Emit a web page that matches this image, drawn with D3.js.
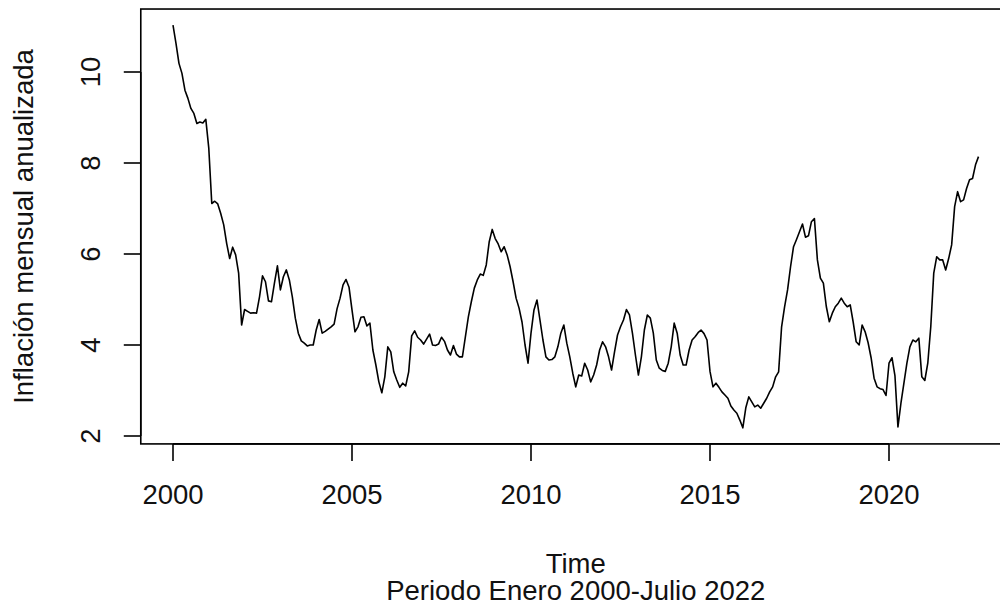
<!DOCTYPE html>
<html>
<head>
<meta charset="utf-8">
<script src="https://cdn.jsdelivr.net/npm/d3@7"></script>
<style>
  html, body { margin: 0; padding: 0; background: #fff; }
  svg text { font-family: "Liberation Sans", Arial, sans-serif; fill: #111; }
</style>
</head>
<body>
<svg id="chart" width="1000" height="614"></svg>
<script>
// Monthly annualized inflation, Jan 2000 - Jul 2022
const startYear = 2000;
const values = [
  11.03,10.63,10.19,9.97,9.60,9.42,9.20,9.09,8.87,8.90,8.88,8.96,
  8.32,7.11,7.16,7.10,6.89,6.64,6.23,5.90,6.15,5.98,5.58,4.44,
  4.78,4.74,4.70,4.71,4.70,5.06,5.52,5.39,4.97,4.95,5.36,5.74,
  5.21,5.50,5.65,5.43,5.06,4.59,4.26,4.09,4.04,3.98,4.00,4.00,
  4.33,4.56,4.26,4.30,4.35,4.40,4.46,4.80,5.03,5.32,5.44,5.27,
  4.77,4.29,4.40,4.61,4.62,4.42,4.48,3.89,3.56,3.19,2.95,3.30,
  3.96,3.85,3.41,3.23,3.07,3.16,3.10,3.41,4.20,4.31,4.17,4.11,
  4.02,4.13,4.24,4.00,3.99,4.02,4.17,4.08,3.89,3.78,3.99,3.80,
  3.74,3.74,4.18,4.62,4.95,5.25,5.43,5.56,5.53,5.76,6.27,6.54,
  6.34,6.22,6.05,6.16,5.98,5.72,5.39,5.03,4.81,4.50,4.00,3.60,
  4.26,4.77,4.99,4.55,4.11,3.74,3.67,3.68,3.74,3.96,4.26,4.44,
  4.04,3.74,3.38,3.08,3.34,3.32,3.60,3.45,3.19,3.34,3.56,3.89,
  4.07,3.96,3.74,3.45,3.85,4.22,4.40,4.55,4.78,4.66,4.26,3.78,
  3.34,3.74,4.33,4.66,4.59,4.26,3.67,3.49,3.44,3.42,3.60,3.96,
  4.48,4.26,3.78,3.56,3.56,3.89,4.11,4.18,4.27,4.33,4.25,4.11,
  3.42,3.08,3.16,3.07,2.97,2.90,2.83,2.66,2.57,2.50,2.35,2.18,
  2.62,2.86,2.75,2.64,2.68,2.61,2.72,2.83,2.97,3.08,3.30,3.41,
  4.40,4.84,5.21,5.72,6.16,6.32,6.49,6.66,6.37,6.40,6.71,6.78,
  5.87,5.47,5.36,4.84,4.51,4.70,4.84,4.92,5.03,4.92,4.84,4.88,
  4.50,4.07,4.00,4.44,4.29,4.05,3.72,3.27,3.08,3.04,3.02,2.89,
  3.60,3.72,3.32,2.20,2.72,3.16,3.60,3.96,4.11,4.07,4.15,3.30,
  3.22,3.60,4.40,5.58,5.94,5.87,5.87,5.65,5.90,6.20,7.04,7.37,
  7.15,7.19,7.44,7.63,7.66,7.96,8.14
];
const xTicks = [2000, 2005, 2010, 2015, 2020];
const yTicks = [2, 4, 6, 8, 10];
const xLabel = "Time";
const subLabel = "Periodo Enero 2000-Julio 2022";
const yLabel = "Inflación mensual anualizada";

(function () {
  const series = values.map((v, i) => ({ t: startYear + i / 12, v }));

  const svg = d3.select("#chart");
  const fs = 27.5;

  // R-style 4% axis extension
  const tExt = d3.extent(series, d => d.t);
  const vExt = d3.extent(series, d => d.v);
  const tPad = (tExt[1] - tExt[0]) * 0.04;
  const vPad = (vExt[1] - vExt[0]) * 0.04;

  const x = d3.scaleLinear().domain([2000, 2020]).range([173, 889]);
  const y = d3.scaleLinear().domain([2, 10]).range([436, 72]);

  const boxL = x(tExt[0] - tPad), boxR = x(tExt[1] + tPad);
  const boxT = y(vExt[1] + vPad), boxB = y(vExt[0] - vPad);

  // plot box
  svg.append("rect")
    .attr("x", boxL).attr("y", boxT)
    .attr("width", boxR - boxL).attr("height", boxB - boxT)
    .attr("fill", "none").attr("stroke", "#000").attr("stroke-width", 1.6);

  // line
  const line = d3.line().x(d => x(d.t)).y(d => y(d.v));
  svg.append("path")
    .datum(series)
    .attr("d", line)
    .attr("fill", "none")
    .attr("stroke", "#000")
    .attr("stroke-width", 1.6)
    .attr("stroke-linejoin", "round");

  // x axis (bottom)
  const xAxis = svg.append("g").attr("transform", `translate(0,${boxB})`);
  xAxis.append("line")
    .attr("x1", x(xTicks[0])).attr("x2", x(xTicks[xTicks.length - 1]))
    .attr("stroke", "#000").attr("stroke-width", 1.6);
  xAxis.selectAll("line.tick").data(xTicks).join("line")
    .attr("class", "tick")
    .attr("x1", d => x(d)).attr("x2", d => x(d))
    .attr("y1", 0).attr("y2", 17)
    .attr("stroke", "#000").attr("stroke-width", 1.6);
  xAxis.selectAll("text").data(xTicks).join("text")
    .attr("x", d => x(d)).attr("y", 60)
    .attr("text-anchor", "middle")
    .attr("font-size", fs)
    .text(d => d);

  // y axis (left)
  const yAxis = svg.append("g").attr("transform", `translate(${boxL},0)`);
  yAxis.append("line")
    .attr("y1", y(yTicks[0])).attr("y2", y(yTicks[yTicks.length - 1]))
    .attr("stroke", "#000").attr("stroke-width", 1.6);
  yAxis.selectAll("line.tick").data(yTicks).join("line")
    .attr("class", "tick")
    .attr("y1", d => y(d)).attr("y2", d => y(d))
    .attr("x1", 0).attr("x2", -17)
    .attr("stroke", "#000").attr("stroke-width", 1.6);
  yAxis.selectAll("text").data(yTicks).join("text")
    .attr("transform", d => `translate(-41,${y(d)}) rotate(-90)`)
    .attr("text-anchor", "middle")
    .attr("font-size", fs)
    .text(d => d);

  // labels
  const cx = (boxL + boxR) / 2;
  svg.append("text")
    .attr("x", cx).attr("y", 573)
    .attr("text-anchor", "middle").attr("font-size", fs)
    .text(xLabel);
  svg.append("text")
    .attr("x", cx).attr("y", 600)
    .attr("text-anchor", "middle").attr("font-size", fs)
    .text(subLabel);
  svg.append("text")
    .attr("transform", `translate(33,${(boxT + boxB) / 2}) rotate(-90)`)
    .attr("text-anchor", "middle").attr("font-size", fs)
    .text(yLabel);
})();
</script>
</body>
</html>
